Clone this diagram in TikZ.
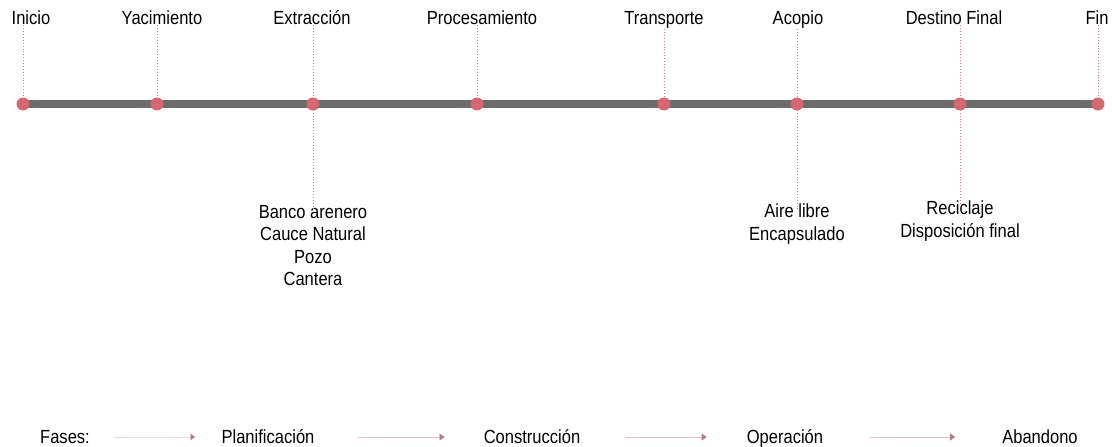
\documentclass[tikz,border=0pt]{standalone}
\usepackage{fontspec}
\setmainfont{Liberation Sans}[FakeStretch=0.87]
\usetikzlibrary{arrows.meta}
\definecolor{axisgray}{RGB}{108,108,108}
\definecolor{dotred}{RGB}{214,102,112}
\definecolor{guide}{RGB}{222,120,130}
\definecolor{phasearrow}{RGB}{225,190,195}
\definecolor{phasehead}{RGB}{180,125,130}
\tikzset{
  milestone/.style={circle,fill=dotred,draw=none,minimum size=13pt,inner sep=0pt},
  toplabel/.style={anchor=base,inner sep=1pt,font=\fontsize{19}{22}\selectfont},
  sublabel/.style={anchor=north,inner sep=0pt,align=center,font=\fontsize{19}{22.5}\selectfont},
  phase/.style={anchor=base,inner sep=0pt,font=\fontsize{19}{22}\selectfont},
  guideline/.style={draw=guide,line width=0.9pt,dotted},
  phasearrowstyle/.style={draw=phasearrow,line width=0.8pt,-{Triangle[length=5pt,width=7pt,color=phasehead]}}
}
\begin{document}
\begin{tikzpicture}[x=1pt,y=-1pt]
\useasboundingbox (0,0) rectangle (1112,447);
% axis
\coordinate (axL) at (23,104);
\coordinate (axR) at (1098,104);
\draw[axisgray,line width=8pt] (axL) -- (axR);
% milestones
\foreach \n/\x in {ini/23,yac/157,ext/313,pro/477,tra/664,aco/797,des/960,fin/1098}
  \node[milestone] (d\n) at (\x,104) {};
% top labels
\node[toplabel] (tini) at (31,24) {Inicio};
\node[toplabel] (tyac) at (162,24) {Yacimiento};
\node[toplabel] (text) at (312,24) {Extracción};
\node[toplabel] (tpro) at (482,24) {Procesamiento};
\node[toplabel] (ttra) at (664,24) {Transporte};
\node[toplabel] (taco) at (798,24) {Acopio};
\node[toplabel] (tdes) at (954,24) {Destino Final};
\node[toplabel] (tfin) at (1097,24) {Fin};
\foreach \n in {ini,yac,ext,pro,tra,aco,des,fin}
  \draw[guideline] (t\n.south -| d\n) -- (d\n.center);
% lower labels
\node[sublabel] (sext) at (313,205) {Banco arenero\\Cauce Natural\\Pozo\\Cantera};
\node[sublabel] (saco) at (797,204) {Aire libre\\Encapsulado};
\node[sublabel] (sdes) at (960,201) {Reciclaje\\Disposición final};
\draw[guideline] (dext.center) -- ([yshift=-5pt]sext.north);
\draw[guideline] (daco.center) -- ([yshift=-6pt]saco.north);
\draw[guideline] (ddes.center) -- ([yshift=-6pt]sdes.north);
% phases
\node[phase] (fas) at (65,443) {Fases:};
\node[phase] (pla) at (268,443) {Planificación};
\node[phase] (con) at (532,443) {Construcción};
\node[phase] (ope) at (785,443) {Operación};
\node[phase] (aba) at (1040,443) {Abandono};
\draw[phasearrowstyle,draw opacity=0.6,shorten <=24pt,shorten >=26pt] ([yshift=6pt]fas.base east) -- ([yshift=6pt]pla.base west);
\draw[phasearrowstyle,shorten <=43pt,shorten >=39pt] ([yshift=6pt]pla.base east) -- ([yshift=6pt]con.base west);
\draw[phasearrowstyle,shorten <=45pt,shorten >=40pt] ([yshift=6pt]con.base east) -- ([yshift=6pt]ope.base west);
\draw[phasearrowstyle,shorten <=47pt,shorten >=47pt] ([yshift=6pt]ope.base east) -- ([yshift=6pt]aba.base west);
\end{tikzpicture}
\end{document}
